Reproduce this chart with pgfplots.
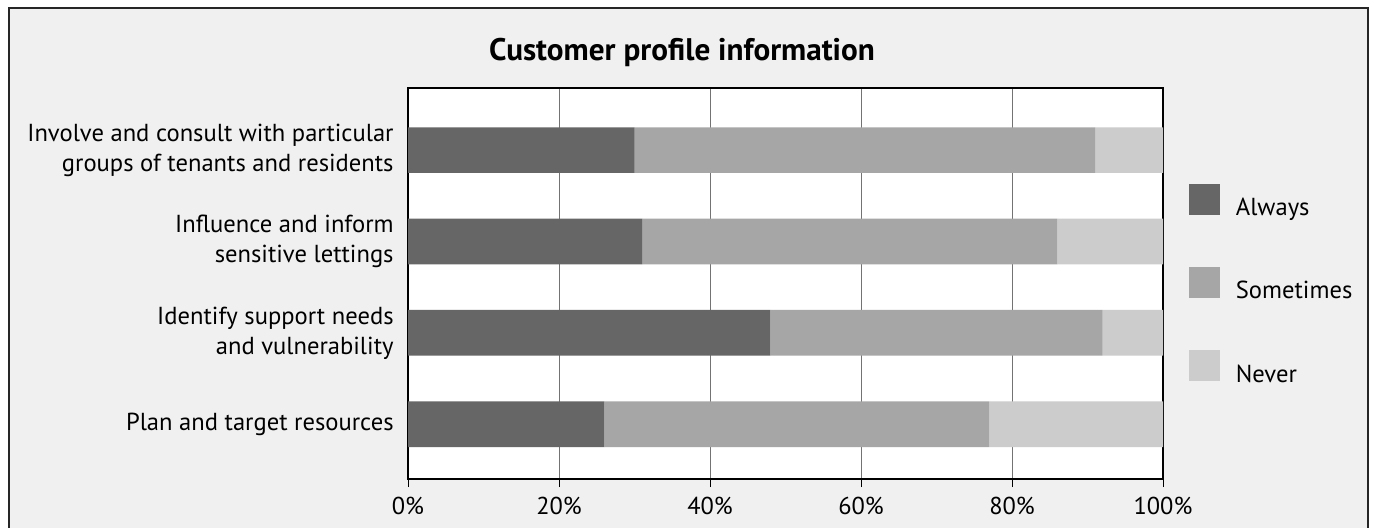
\documentclass[border=0pt]{standalone}
\usepackage{pgfplots}
\pgfplotsset{compat=1.18}
\usepackage{fontspec}
\setmainfont{PT Sans}
\definecolor{cAlways}{HTML}{666666}
\definecolor{cSome}{HTML}{A6A6A6}
\definecolor{cNever}{HTML}{CCCCCC}
\definecolor{bgc}{HTML}{F0F0F0}
\begin{document}
\begin{tikzpicture}
\path[use as bounding box] (0pt,0pt) rectangle (687pt,-264pt);
\filldraw[fill=bgc, draw=black!85, line width=1pt] (4.6pt,-3.8pt) rectangle (684pt,-290pt);
\node[font=\fontsize{15.6}{18}\selectfont\bfseries] at (341pt,-26pt) {Customer profile information};
\begin{axis}[
  at={(204pt,-44pt)}, anchor=north west,
  scale only axis, width=377.5pt, height=195.5pt,
  xbar stacked, bar width=0.5,
  xmin=0, xmax=100, ymin=-0.68, ymax=3.6, y dir=reverse,
  axis background/.style={fill=white},
  axis line style={black, line width=1pt},
  xtick={0,20,40,60,80,100},
  xticklabel={\pgfmathprintnumber{\tick}\%},
  xtick pos=bottom, tick align=outside,
  major tick length=4pt,
  xtick style={black, line width=0.5pt},
  xmajorgrids, grid style={black!55, line width=0.5pt},
  ytick={0,1,2,3},
  yticklabels={{Involve and consult with particular\\groups of tenants and residents},{Influence and inform\\sensitive lettings},{Identify support needs\\and vulnerability},{Plan and target resources}},
  ytick style={draw=none},
  yticklabel style={align=right, inner sep=0pt, xshift=-3pt, font=\fontsize{12.3}{15}\selectfont},
  xticklabel style={inner sep=0pt, yshift=-5pt, font=\fontsize{12.2}{14}\selectfont},
  /pgf/number format/assume math mode=true,
  legend style={at={(1,0.5)}, anchor=west, xshift=12.75pt, yshift=-0.5pt,
    draw=none, fill=none, inner sep=0pt, row sep=24.3pt, column sep=8pt,
    font=\fontsize{12.3}{14}\selectfont, nodes={inner sep=0pt}},
  legend cell align=left,
  legend image code/.code={\fill[#1] (0pt,-3.3pt) rectangle (15.5pt,12.2pt);},
]
\addplot[fill=cAlways, draw=none] coordinates {(30,0) (31,1) (48,2) (26,3)};
\addplot[fill=cSome, draw=none] coordinates {(61,0) (55,1) (44,2) (51,3)};
\addplot[fill=cNever, draw=none] coordinates {(9,0) (14,1) (8,2) (23,3)};
\legend{Always,Sometimes,Never}
\end{axis}
\end{tikzpicture}
\end{document}
